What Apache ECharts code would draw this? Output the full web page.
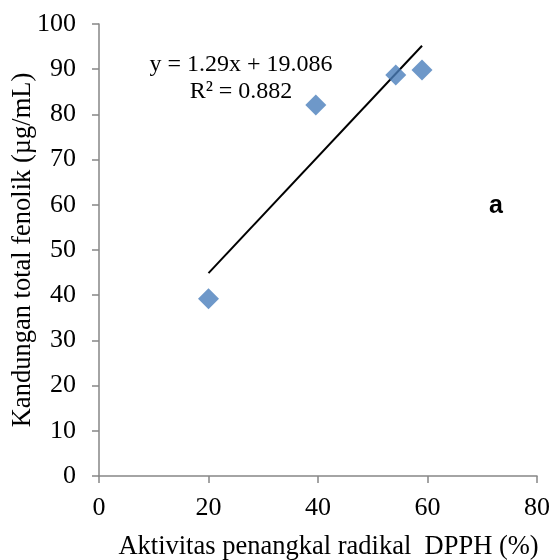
<!DOCTYPE html>
<html>
<head>
<meta charset="utf-8">
<script src="https://cdn.jsdelivr.net/npm/echarts@6/dist/echarts.min.js"></script>
<style>html,body{margin:0;padding:0;background:#fff}#c{width:554px;height:560px}</style>
</head>
<body>
<div id="c"></div>
<script>
var xValues = [20, 39.6, 54.2, 59.0];
var yValues = [39.2, 82.1, 88.7, 89.8];
var slope = 1.29;
var intercept = 19.086;
var rSquared = 0.882;
var xTicks = [0, 20, 40, 60, 80];
var yTicks = [0, 10, 20, 30, 40, 50, 60, 70, 80, 90, 100];
var xTitle = 'Aktivitas penangkal radikal  DPPH (%)';
var yTitle = 'Kandungan total fenolik (µg/mL)';
var panelLabel = 'a';

var points = xValues.map(function (x, i) { return [x, yValues[i]]; });
var xMin = Math.min.apply(null, xValues), xMax = Math.max.apply(null, xValues);
var trend = [[xMin, slope * xMin + intercept], [xMax, slope * xMax + intercept]];

var serif = '"Liberation Serif", "Times New Roman", serif';
var chart = echarts.init(document.getElementById('c'), null, {renderer: 'canvas'});
chart.setOption({
  animation: false,
  backgroundColor: '#ffffff',
  grid: {left: 99, right: 17, top: 24, bottom: 84, containLabel: false, outerBoundsMode: 'none'},
  xAxis: {
    type: 'value', min: xTicks[0], max: xTicks[xTicks.length - 1], interval: 20,
    name: xTitle, nameLocation: 'middle', nameGap: 58, nameMoveOverlap: false,
    nameTextStyle: {fontFamily: serif, fontSize: 26.5, color: '#000', padding: [0, 0, 0, 21]},
    axisLine: {show: true, lineStyle: {color: '#868686', width: 1.5}},
    axisTick: {show: true, inside: false, length: 7, lineStyle: {color: '#868686', width: 1.5}},
    axisLabel: {fontFamily: serif, fontSize: 26, color: '#000', margin: 19},
    splitLine: {show: false}
  },
  yAxis: {
    type: 'value', min: yTicks[0], max: yTicks[yTicks.length - 1], interval: 10,
    name: yTitle, nameLocation: 'middle', nameGap: 62, nameRotate: 90, nameMoveOverlap: false,
    nameTextStyle: {fontFamily: serif, fontSize: 26.5, color: '#000'},
    axisLine: {show: true, lineStyle: {color: '#868686', width: 1.5}},
    axisTick: {show: true, inside: false, length: 7, lineStyle: {color: '#868686', width: 1.5}},
    axisLabel: {fontFamily: serif, fontSize: 26, color: '#000', margin: 23},
    splitLine: {show: false}
  },
  series: [
    {
      type: 'line', data: trend, symbol: 'none', silent: true,
      lineStyle: {color: '#000', width: 2}, z: 2
    },
    {
      type: 'scatter', data: points, symbol: 'diamond', symbolSize: [21, 21],
      itemStyle: {color: '#4a7ebb'}, z: 3
    }
  ],
  graphic: [
    {type: 'text', x: 241, y: 65, style: {
      text: 'y = ' + slope + 'x + ' + intercept,
      fontFamily: serif, fontSize: 24, fill: '#000', textAlign: 'center', textVerticalAlign: 'middle'}},
    {type: 'text', x: 241, y: 92, style: {
      text: 'R² = ' + rSquared,
      fontFamily: serif, fontSize: 24, fill: '#000', textAlign: 'center', textVerticalAlign: 'middle'}},
    {type: 'text', x: 496, y: 206, style: {
      text: panelLabel,
      fontFamily: '"Liberation Sans", Arial, sans-serif', fontWeight: 'bold', fontSize: 25,
      fill: '#000', textAlign: 'center', textVerticalAlign: 'middle'}}
  ]
});
</script>
</body>
</html>
